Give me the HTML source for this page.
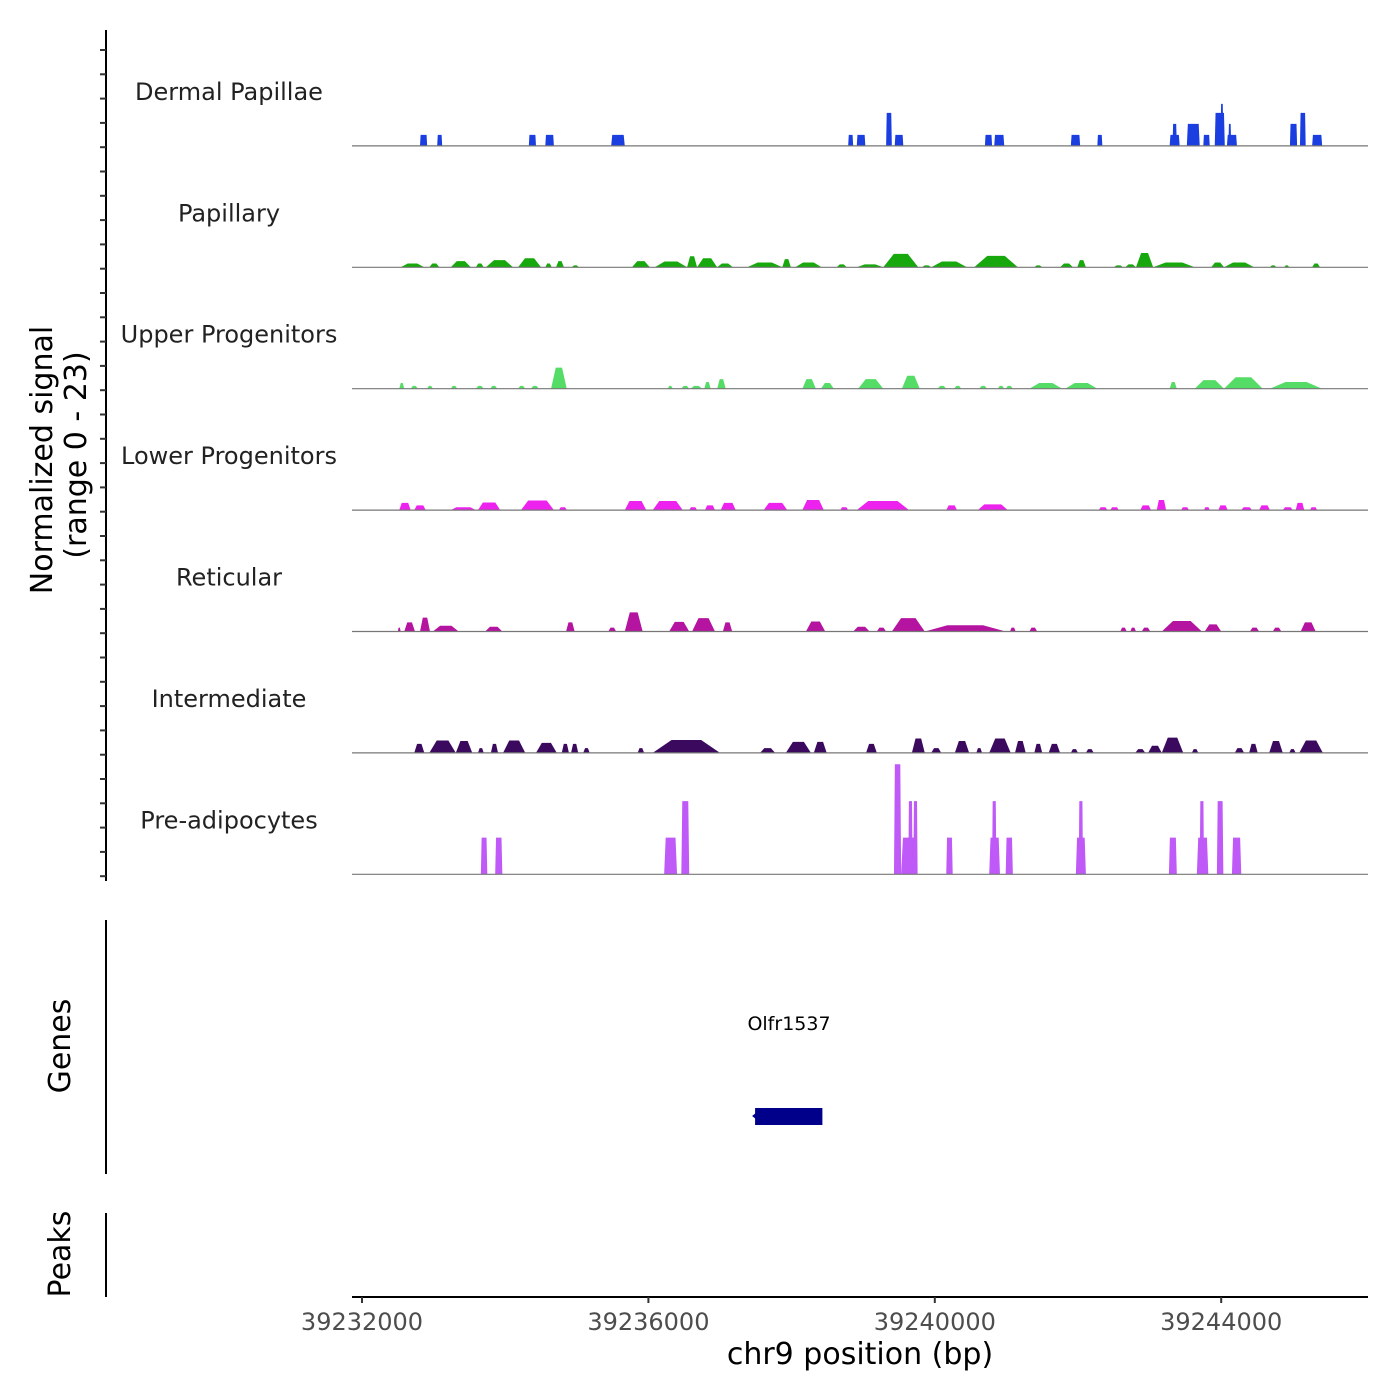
<!DOCTYPE html>
<html><head><meta charset="utf-8">
<style>
html,body{margin:0;padding:0;background:#fff;}
svg{display:block;font-family:"DejaVu Sans","Liberation Sans",sans-serif;}
</style></head>
<body>
<svg id="chart" width="1400" height="1400" viewBox="0 0 1400 1400" xmlns="http://www.w3.org/2000/svg">
<g id="left-axis"></g>
<g id="tracks"></g>
<text transform="translate(52,460) rotate(-90)" text-anchor="middle" font-size="30" fill="#000">Normalized signal</text>
<text transform="translate(86,455) rotate(-90)" text-anchor="middle" font-size="30" fill="#000">(range 0 - 23)</text>
<line x1="106" y1="920" x2="106" y2="1174" stroke="#000" stroke-width="2"/>
<text transform="translate(70,1046) rotate(-90)" text-anchor="middle" font-size="30" fill="#000">Genes</text>
<text x="789" y="1030" text-anchor="middle" font-size="19" fill="#000">Olfr1537</text>
<g id="gene"></g>
<line x1="106" y1="1213" x2="106" y2="1297" stroke="#000" stroke-width="2"/>
<text transform="translate(70,1254) rotate(-90)" text-anchor="middle" font-size="30" fill="#000">Peaks</text>
<g id="xaxis"></g>
<text x="860" y="1364" text-anchor="middle" font-size="30" fill="#000">chr9 position (bp)</text>
</svg>
<script>
// genomic region (bp)
const regionStart = 39232000;
const xTicks = [39232000, 39236000, 39240000, 39244000];
const xTickLabels = ["39232000", "39236000", "39240000", "39244000"];
const yMax = 23;
const trackNames = ["Dermal Papillae","Papillary","Upper Progenitors","Lower Progenitors","Reticular","Intermediate","Pre-adipocytes"];
// segments: [start kb offset, end kb offset, normalized signal]
const dermalPapillae = [[0.81,0.91,2.3],[1.05,1.12,2.3],[2.33,2.43,2.3],[2.56,2.68,2.3],[3.48,3.67,2.3],[6.79,6.86,2.3],[6.91,7.03,2.3],[7.32,7.40,6.9],[7.44,7.56,2.3],[8.70,8.80,2.3],[8.83,8.97,2.3],[9.90,10.03,2.3],[10.27,10.34,2.3],[11.28,11.42,2.3],[11.32,11.38,4.6],[11.52,11.70,4.6],[11.75,11.84,2.3],[11.91,12.05,6.9],[11.99,12.03,8.8],[12.08,12.22,2.3],[12.10,12.14,4.6],[12.96,13.06,4.6],[13.10,13.18,6.9],[13.27,13.41,2.3]];
const papillary = [[0.54,0.87,0.8],[0.94,1.08,0.8],[1.24,1.52,1.3],[1.59,1.70,0.8],[1.73,2.11,1.5],[2.18,2.50,1.9],[2.56,2.65,0.8],[2.71,2.82,1.3],[2.93,3.03,0.4],[3.77,4.02,1.3],[4.09,4.54,1.2],[4.54,4.68,2.3],[4.68,4.96,1.9],[4.96,5.18,0.8],[5.38,5.87,1.0],[5.87,5.99,1.7],[6.05,6.42,1.0],[6.63,6.77,0.6],[6.91,7.28,0.6],[7.28,7.77,2.8],[7.82,7.95,0.4],[7.95,8.45,1.2],[8.55,9.16,2.4],[9.39,9.50,0.4],[9.75,9.93,0.8],[9.99,10.11,1.5],[10.50,10.63,0.4],[10.66,10.81,0.6],[10.81,11.05,3.0],[11.05,11.63,1.0],[11.86,12.04,1.0],[12.04,12.46,1.0],[12.68,12.77,0.4],[12.88,12.95,0.4],[13.27,13.38,0.8]];
const upperProgenitors = [[0.52,0.59,1.2],[0.68,0.78,0.6],[0.91,0.99,0.6],[1.24,1.33,0.6],[1.59,1.70,0.6],[1.79,1.89,0.6],[2.18,2.28,0.6],[2.36,2.47,0.6],[2.64,2.86,4.4],[4.27,4.34,0.6],[4.46,4.57,0.6],[4.59,4.75,0.6],[4.78,4.87,1.4],[4.96,5.08,2.0],[6.15,6.34,2.0],[6.41,6.59,1.2],[6.93,7.28,2.0],[7.54,7.79,2.7],[8.04,8.16,0.6],[8.27,8.37,0.6],[8.62,8.73,0.6],[8.88,8.97,0.6],[8.99,9.09,0.6],[9.32,9.78,1.2],[9.82,10.27,1.2],[11.28,11.38,1.4],[11.63,12.04,1.8],[12.04,12.58,2.4],[12.68,13.41,1.4]];
const lowerProgenitors = [[0.52,0.68,1.5],[0.73,0.89,1.0],[1.24,1.59,0.6],[1.62,1.93,1.6],[2.22,2.68,2.0],[2.75,2.86,0.6],[3.67,3.97,1.9],[4.06,4.48,1.9],[4.57,4.68,0.6],[4.79,4.93,1.0],[5.01,5.22,1.5],[5.61,5.94,1.5],[6.15,6.45,2.1],[6.68,6.79,0.6],[6.91,7.64,1.9],[8.16,8.31,1.0],[8.60,9.02,1.2],[10.29,10.41,0.6],[10.45,10.57,0.6],[10.87,11.02,1.0],[11.10,11.23,2.1],[11.44,11.55,0.6],[11.76,11.84,0.6],[11.96,12.09,1.0],[12.28,12.43,0.6],[12.53,12.68,1.0],[12.86,13.00,0.6],[13.04,13.16,1.5],[13.24,13.34,0.6]];
const reticular = [[0.50,0.54,0.8],[0.59,0.74,1.9],[0.81,0.95,2.9],[0.99,1.35,1.2],[1.72,1.96,1.0],[2.85,2.97,1.9],[3.44,3.55,0.8],[3.67,3.92,4.0],[4.29,4.57,2.0],[4.61,4.93,2.8],[5.04,5.17,1.9],[6.20,6.47,2.1],[6.86,7.09,1.0],[7.19,7.32,0.8],[7.40,7.86,2.8],[7.86,8.99,1.3],[9.05,9.13,0.8],[9.32,9.43,0.8],[10.59,10.68,0.8],[10.73,10.81,0.8],[10.89,11.01,0.8],[11.17,11.73,2.2],[11.77,12.00,1.5],[12.40,12.53,0.8],[12.72,12.84,0.8],[13.11,13.32,1.9]];
const intermediate = [[0.73,0.87,1.9],[0.94,1.31,2.6],[1.31,1.54,2.5],[1.62,1.70,1.0],[1.80,1.90,1.9],[1.97,2.28,2.6],[2.43,2.72,2.1],[2.79,2.89,1.9],[2.92,3.02,1.9],[3.09,3.18,1.0],[3.85,3.94,1.0],[4.06,5.00,2.7],[5.56,5.77,1.0],[5.92,6.27,2.3],[6.31,6.49,2.3],[7.04,7.19,1.9],[7.68,7.86,3.0],[7.95,8.09,1.0],[8.28,8.48,2.5],[8.58,8.66,1.0],[8.76,9.06,3.0],[9.12,9.27,2.5],[9.39,9.50,1.9],[9.59,9.75,1.9],[9.90,10.00,0.8],[10.11,10.22,0.8],[10.80,10.94,0.8],[10.98,11.17,1.5],[11.17,11.47,3.2],[11.59,11.68,0.8],[12.19,12.32,1.0],[12.39,12.51,1.9],[12.67,12.86,2.5],[12.95,13.04,0.8],[13.09,13.42,2.6]];
const preAdipocytes = [[1.66,1.75,7.67],[1.86,1.96,7.67],[4.22,4.40,7.67],[4.46,4.57,15.3],[7.43,7.53,23],[7.53,7.74,7.67],[7.63,7.69,15.3],[7.70,7.76,15.3],[8.16,8.25,7.67],[8.76,8.91,7.67],[8.80,8.86,15.3],[8.99,9.09,7.67],[9.97,10.11,7.67],[10.01,10.07,15.3],[11.27,11.38,7.67],[11.66,11.82,7.67],[11.70,11.76,15.3],[11.94,12.03,15.3],[12.15,12.28,7.67]];
const trackData = [dermalPapillae,papillary,upperProgenitors,lowerProgenitors,reticular,intermediate,preAdipocytes];
// gene model (kb offsets)
const geneStartKb = 5.49, geneEndKb = 6.43;

const colors = ["#1a3ee0","#17a80d","#55dc66","#ee22ee","#b4149f","#3b0a5e","#bf59f7"];
const soft = [0.08,0.3,0.3,0.22,0.28,0.28,0.12];
const NS = "http://www.w3.org/2000/svg";
const plotL = 352, plotR = 1368;
const pxPerKb = 71.6, x0 = 362;
function xScale(bp){ return x0 + (bp - regionStart) / 1000 * pxPerKb; }
function kbX(kb){ return xScale(regionStart + kb * 1000); }
const trackTop = 30, trackH = 121.4, hPx = 110;
function mk(tag, attrs, parent){ const e = document.createElementNS(NS, tag); for (const k in attrs) e.setAttribute(k, attrs[k]); parent.appendChild(e); return e; }

const la = document.getElementById('left-axis');
const axLine = mk('line',{x1:106,y1:30,x2:106,y2:881,stroke:'#000','stroke-width':2},la);


for (let i = 0; i < 35; i++){
  const y = 50 + i * 24.3;
  const t = mk('line',{x1:100,y1:y,x2:106,y2:y,stroke:'#333','stroke-width':2},la);
  
  
}

const tg = document.getElementById('tracks');
trackData.forEach((segs, ti) => {
  const base = trackTop + trackH * (ti + 1) - 5.5;
  const g = mk('g',{},tg);
  
  
  const lab = mk('text',{x:229,y:base-46,'text-anchor':'middle','font-size':24,fill:'#222'},g);
  lab.textContent = trackNames[ti];
  
  
  segs.forEach(s => {
    const xa = kbX(s[0]), xb = kbX(s[1]);
    const h = s[2] / yMax * hPx;
    const d = Math.max(0.6, (xb - xa) * soft[ti]);
    const p = mk('polygon',{points:`${xa},${base} ${xa+d},${base-h} ${xb-d},${base-h} ${xb},${base}`,fill:colors[ti]},g);
    
    
  });
  const bl = mk('line',{x1:plotL,y1:base,x2:plotR,y2:base,stroke:'#777','stroke-width':1.2},g);
  
  
});

const gg = document.getElementById('gene');
const gx1 = kbX(geneStartKb), gx2 = kbX(geneEndKb);
const gr = mk('rect',{x:gx1,y:1108,width:gx2-gx1,height:17,fill:'#00008b'},gg);


const ga = mk('polygon',{points:`${gx1-3},1116 ${gx1+2},1112 ${gx1+2},1120`,fill:'#00008b'},gg);



const xa = document.getElementById('xaxis');
const xl = mk('line',{x1:plotL,y1:1297,x2:plotR,y2:1297,stroke:'#000','stroke-width':2},xa);


xTicks.forEach((v, i) => {
  const x = xScale(v);
  const t = mk('line',{x1:x,y1:1297,x2:x,y2:1303,stroke:'#333','stroke-width':2},xa);
  
  
  const tx = mk('text',{x:x,y:1330,'text-anchor':'middle','font-size':24,fill:'#4d4d4d'},xa);
  tx.textContent = xTickLabels[i];
  
  
});
</script>
</body></html>
